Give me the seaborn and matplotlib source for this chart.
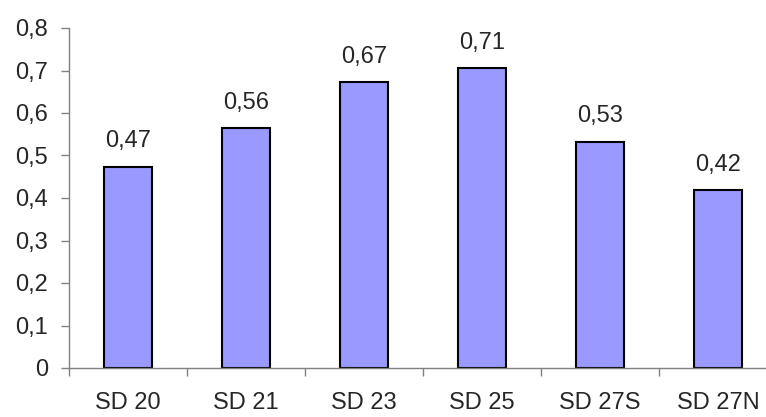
import matplotlib
matplotlib.use("Agg")
import matplotlib.pyplot as plt
import seaborn as sns
import numpy as np
import pandas as pd

categories = ["SD 20", "SD 21", "SD 23", "SD 25", "SD 27S", "SD 27N"]
values = [0.474, 0.564, 0.672, 0.705, 0.532, 0.418]
labels = ["0,47", "0,56", "0,67", "0,71", "0,53", "0,42"]
yticks = [0, 0.1, 0.2, 0.3, 0.4, 0.5, 0.6, 0.7, 0.8]
ytick_labels = ["0", "0,1", "0,2", "0,3", "0,4", "0,5", "0,6", "0,7", "0,8"]

sns.set_style("white")
plt.rcParams["font.family"] = ["Liberation Sans", "DejaVu Sans"]

df = pd.DataFrame({"cat": categories, "val": values})

fig = plt.figure(figsize=(7.66, 4.17), dpi=100)
ax = fig.add_axes([69 / 766, 49 / 417, 708 / 766, 340 / 417])

sns.barplot(data=df, x="cat", y="val", ax=ax, color="#9999FF", saturation=1,
            width=0.41, edgecolor="black", linewidth=1.5)

ax.set_xlim(-0.5, 5.5)
ax.set_ylim(0, 0.8)
ax.set_xlabel("")
ax.set_ylabel("")

FS = 17
for i, (v, lab) in enumerate(zip(values, labels)):
    ax.annotate(lab, (i, v), xytext=(0, 14), textcoords="offset points",
                ha="center", va="baseline", fontsize=FS)

ax.set_yticks(yticks)
ax.set_yticklabels(ytick_labels, fontsize=FS)
ax.tick_params(axis="y", direction="out", length=6, width=1, color="#808080", pad=9, left=True)

ax.set_xticks(range(len(categories)))
ax.set_xticklabels(categories, fontsize=FS)
ax.tick_params(axis="x", which="major", length=0, pad=17)
ax.set_xticks(np.arange(-0.5, 6.0, 1.0), minor=True)
ax.tick_params(axis="x", which="minor", direction="out", length=6, width=1, color="#808080", bottom=True)

for s in ["top", "right"]:
    ax.spines[s].set_visible(False)
for s in ["left", "bottom"]:
    ax.spines[s].set_color("#808080")
    ax.spines[s].set_linewidth(1)
ax.spines["bottom"].set_clip_on(False)

fig.savefig("out.png", dpi=100)
